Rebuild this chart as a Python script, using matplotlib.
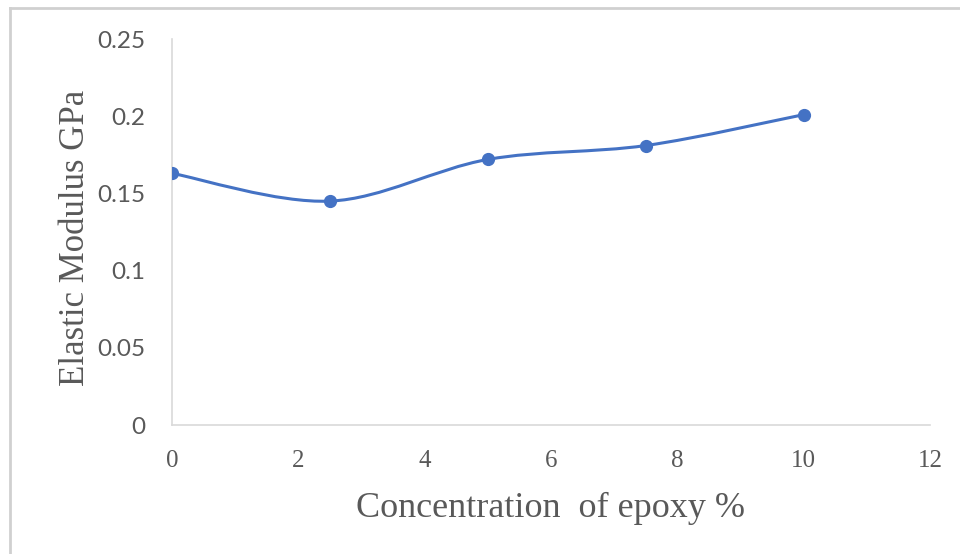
import matplotlib
matplotlib.use("Agg")
import matplotlib.pyplot as plt
from matplotlib.path import Path
from matplotlib.patches import PathPatch
from matplotlib.lines import Line2D
import numpy as np

# Data
concentration = [0, 2.5, 5, 7.5, 10]
modulus = [0.163, 0.145, 0.172, 0.181, 0.201]
x_ticks = [0, 2, 4, 6, 8, 10, 12]
y_ticks = [0, 0.05, 0.1, 0.15, 0.2, 0.25]
y_tick_labels = ["0", "0.05", "0.1", "0.15", "0.2", "0.25"]
x_label = "Concentration  of epoxy %"
y_label = "Elastic Modulus GPa"

BLUE = "#4472C4"
GRAY_TXT = "#595959"
AXIS_C = "#D9D9D9"

fig = plt.figure(figsize=(9.6, 5.54), dpi=100)
ax = fig.add_axes([172/960, 1-425/554, (930-172)/960, (425-39)/554])

# Excel-like smoothed curve (Bezier with 1/6 tension)
pts = np.column_stack([concentration, modulus]).astype(float)
n = len(pts)
verts = [tuple(pts[0])]
codes = [Path.MOVETO]
for i in range(n - 1):
    p_prev = pts[i - 1] if i > 0 else pts[i]
    p0 = pts[i]
    p1 = pts[i + 1]
    p_next = pts[i + 2] if i + 2 < n else pts[i + 1]
    c1 = p0 + (p1 - p_prev) / 6.0
    c2 = p1 - (p_next - p0) / 6.0
    verts += [tuple(c1), tuple(c2), tuple(p1)]
    codes += [Path.CURVE4] * 3
ax.add_patch(PathPatch(Path(verts, codes), facecolor="none", edgecolor=BLUE,
                       lw=2.2, capstyle="round", zorder=3))
ax.plot(concentration, modulus, "o", color=BLUE, ms=8.5, ls="none", zorder=4)

ax.set_xlim(0, 12)
ax.set_ylim(0, 0.25)
ax.set_xticks(x_ticks)
ax.set_yticks(y_ticks)
ax.set_yticklabels(y_tick_labels)

for s in ["top", "right"]:
    ax.spines[s].set_visible(False)
for s in ["left", "bottom"]:
    ax.spines[s].set_color(AXIS_C)
    ax.spines[s].set_linewidth(1.2)
ax.tick_params(length=0)
ax.tick_params(axis="y", pad=19, labelcolor=GRAY_TXT)
ax.tick_params(axis="x", pad=18, labelcolor=GRAY_TXT)
for lab in ax.get_yticklabels():
    lab.set_fontfamily("Lato")
    lab.set_fontsize(17.5)
for lab in ax.get_xticklabels():
    lab.set_fontfamily("Liberation Serif")
    lab.set_fontsize(18)

fig.text(551/960, 1-508/554, x_label, family="Liberation Serif", fontsize=26,
         color=GRAY_TXT, ha="center", va="center")
fig.text(76/960, 1-238/554, y_label, family="Liberation Serif", fontsize=25,
         color=GRAY_TXT, ha="center", va="center", rotation=90)

# Outer chart border (top and left visible)
fig.add_artist(Line2D([10/960, 1.0], [1-8/554, 1-8/554], transform=fig.transFigure,
                      color="#D0D0D0", lw=2))
fig.add_artist(Line2D([10/960, 10/960], [0, 1-8/554], transform=fig.transFigure,
                      color="#D0D0D0", lw=2))

fig.savefig("out.png", dpi=100)
